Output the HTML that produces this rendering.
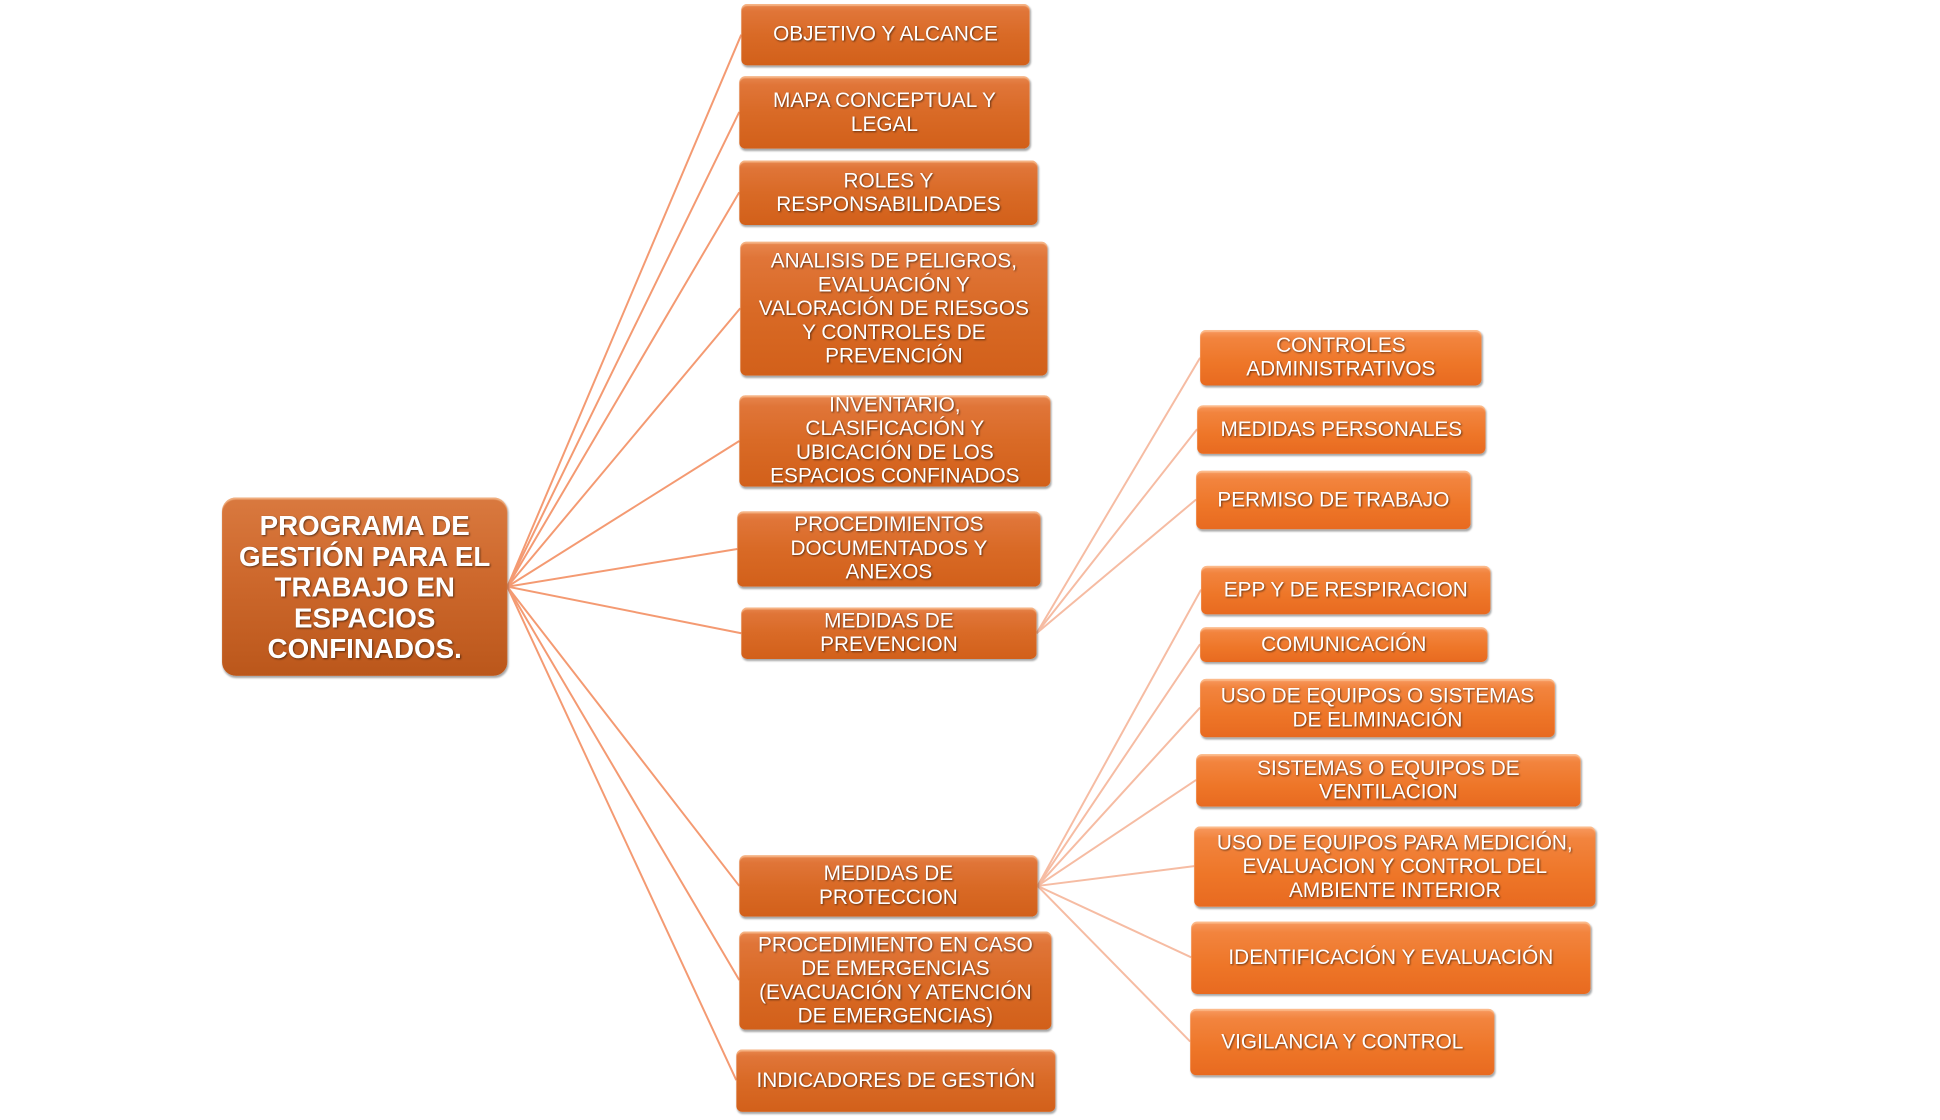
<!DOCTYPE html>
<html><head><meta charset="utf-8"><style>
html,body{margin:0;padding:0;background:#fff;}
body{width:1940px;height:1118px;position:relative;overflow:hidden;font-family:"Liberation Sans",Arial,sans-serif;}
#w{position:absolute;left:0;top:0;width:1940px;height:1130px;transform:scale(0.991);transform-origin:0 0;}
.b{position:absolute;box-sizing:border-box;display:flex;align-items:center;justify-content:center;text-align:center;color:#fff;font-size:21px;line-height:24px;border-radius:6px;
background:linear-gradient(#e8874e 0%,#e07538 12%,#d96a26 50%,#d2601a 100%);
box-shadow:1px 2px 2px rgba(0,0,0,.35), inset 0 2px 1px rgba(255,210,170,.6);
text-shadow:1px 1px 2px rgba(0,0,0,.55);padding:0 4px;white-space:nowrap;}
.r{background:linear-gradient(#f89a60 0%,#f2843e 15%,#ee7628 60%,#e86a20 100%);}
.root{font-weight:bold;font-size:28px;line-height:31px;border-radius:14px;background:linear-gradient(#d9793f 0%,#cf6a2e 40%,#bb571b 100%);}
svg{position:absolute;left:0;top:0;}
</style></head><body><div id="w">
<svg width="1940" height="1130">
<g stroke="#f49a72" stroke-width="2" fill="none">
<line x1="512" y1="592" x2="748" y2="35"/>
<line x1="512" y1="592" x2="746" y2="113"/>
<line x1="512" y1="592" x2="746" y2="194"/>
<line x1="512" y1="592" x2="747" y2="311"/>
<line x1="512" y1="592" x2="746" y2="445"/>
<line x1="512" y1="592" x2="744" y2="554"/>
<line x1="512" y1="592" x2="748" y2="639"/>
<line x1="512" y1="592" x2="746" y2="894"/>
<line x1="512" y1="592" x2="746" y2="989"/>
<line x1="512" y1="592" x2="743" y2="1090"/>
</g>
<g stroke="#f6bca3" stroke-width="2" fill="none">
<line x1="1046" y1="639" x2="1211" y2="361"/>
<line x1="1046" y1="639" x2="1208" y2="433"/>
<line x1="1046" y1="639" x2="1207" y2="504"/>
<line x1="1047" y1="894" x2="1212" y2="595"/>
<line x1="1047" y1="894" x2="1211" y2="650"/>
<line x1="1047" y1="894" x2="1211" y2="714"/>
<line x1="1047" y1="894" x2="1207" y2="787"/>
<line x1="1047" y1="894" x2="1205" y2="874"/>
<line x1="1047" y1="894" x2="1202" y2="966"/>
<line x1="1047" y1="894" x2="1201" y2="1051"/>
</g>
</svg>
<div class="b root" style="left:224px;top:502px;width:288px;height:180px;">PROGRAMA DE<br>GESTIÓN PARA EL<br>TRABAJO EN<br>ESPACIOS<br>CONFINADOS.</div>
<div class="b" style="left:748px;top:4px;width:291px;height:62px;">OBJETIVO Y ALCANCE</div>
<div class="b" style="left:746px;top:77px;width:293px;height:73px;">MAPA CONCEPTUAL Y<br>LEGAL</div>
<div class="b" style="left:746px;top:162px;width:301px;height:65px;">ROLES Y<br>RESPONSABILIDADES</div>
<div class="b" style="left:747px;top:244px;width:310px;height:135px;">ANALISIS DE PELIGROS,<br>EVALUACIÓN Y<br>VALORACIÓN DE RIESGOS<br>Y CONTROLES DE<br>PREVENCIÓN</div>
<div class="b" style="left:746px;top:399px;width:314px;height:92px;">INVENTARIO,<br>CLASIFICACIÓN Y<br>UBICACIÓN DE LOS<br>ESPACIOS CONFINADOS</div>
<div class="b" style="left:744px;top:516px;width:306px;height:76px;">PROCEDIMIENTOS<br>DOCUMENTADOS Y<br>ANEXOS</div>
<div class="b" style="left:748px;top:613px;width:298px;height:52px;">MEDIDAS DE<br>PREVENCION</div>
<div class="b" style="left:746px;top:863px;width:301px;height:62px;">MEDIDAS DE<br>PROTECCION</div>
<div class="b" style="left:746px;top:940px;width:315px;height:99px;">PROCEDIMIENTO EN CASO<br>DE EMERGENCIAS<br>(EVACUACIÓN Y ATENCIÓN<br>DE EMERGENCIAS)</div>
<div class="b" style="left:743px;top:1059px;width:322px;height:63px;">INDICADORES DE GESTIÓN</div>
<div class="b r" style="left:1211px;top:333px;width:284px;height:56px;">CONTROLES<br>ADMINISTRATIVOS</div>
<div class="b r" style="left:1208px;top:409px;width:291px;height:49px;">MEDIDAS PERSONALES</div>
<div class="b r" style="left:1207px;top:475px;width:277px;height:59px;">PERMISO DE TRABAJO</div>
<div class="b r" style="left:1212px;top:571px;width:292px;height:49px;">EPP Y DE RESPIRACION</div>
<div class="b r" style="left:1211px;top:633px;width:290px;height:35px;">COMUNICACIÓN</div>
<div class="b r" style="left:1211px;top:685px;width:358px;height:59px;">USO DE EQUIPOS O SISTEMAS<br>DE ELIMINACIÓN</div>
<div class="b r" style="left:1207px;top:761px;width:388px;height:53px;">SISTEMAS O EQUIPOS DE<br>VENTILACION</div>
<div class="b r" style="left:1205px;top:834px;width:405px;height:81px;">USO DE EQUIPOS PARA MEDICIÓN,<br>EVALUACION Y CONTROL DEL<br>AMBIENTE INTERIOR</div>
<div class="b r" style="left:1202px;top:930px;width:403px;height:73px;">IDENTIFICACIÓN Y EVALUACIÓN</div>
<div class="b r" style="left:1201px;top:1018px;width:307px;height:67px;">VIGILANCIA Y CONTROL</div>
</div></body></html>
